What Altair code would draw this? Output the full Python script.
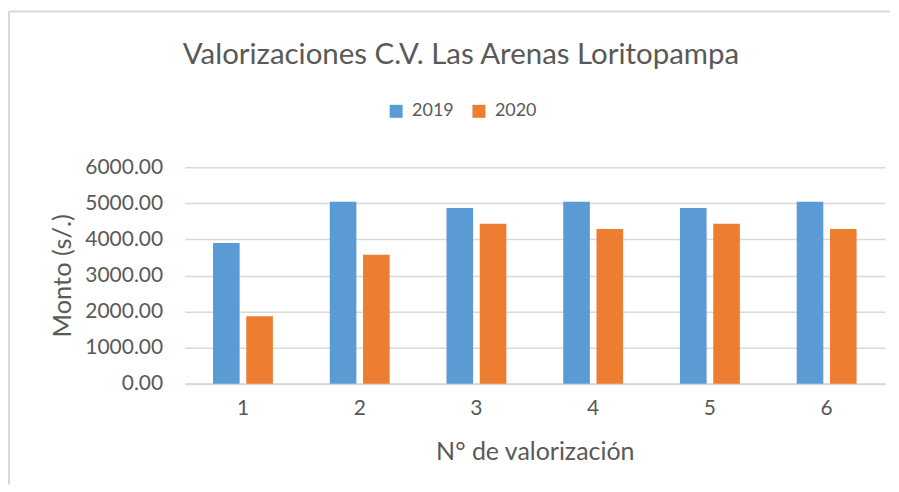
import altair as alt
import pandas as pd

categories = ["1", "2", "3", "4", "5", "6"]
series_2019 = [3900, 5040, 4870, 5040, 4870, 5040]
series_2020 = [1870, 3570, 4430, 4285, 4430, 4285]
years = ["2019", "2020"]

rows = []
for c, a, b in zip(categories, series_2019, series_2020):
    rows.append({"n": c, "year": "2019", "monto": a})
    rows.append({"n": c, "year": "2020", "monto": b})
df = pd.DataFrame(rows)

FONT = "Lato"
GRAY = "#595959"

bars = alt.Chart(df).mark_bar().encode(
    x=alt.X("n:N", sort=categories,
            scale=alt.Scale(paddingInner=0.487, paddingOuter=0.2435),
            axis=alt.Axis(title="N° de valorización", labelAngle=0, ticks=False,
                          domainColor="#d9d9d9", domainWidth=2,
                          labelFont=FONT, labelFontSize=21, labelColor=GRAY, labelPadding=14,
                          titleFont=FONT, titleFontSize=25, titleColor=GRAY,
                          titleFontWeight="normal", titlePadding=21)),
    xOffset=alt.XOffset("year:N", sort=years,
                        scale=alt.Scale(paddingInner=0.2, paddingOuter=0)),
    y=alt.Y("monto:Q", scale=alt.Scale(domain=[0, 6000]),
            axis=alt.Axis(title="Monto (s/.)", values=[0, 1000, 2000, 3000, 4000, 5000, 6000],
                          format=".2f", ticks=False, domain=False,
                          gridColor="#d9d9d9", gridWidth=1.5,
                          labelFont=FONT, labelFontSize=21, labelColor=GRAY, labelPadding=22,
                          titleFont=FONT, titleFontSize=25.5, titleColor=GRAY,
                          titleFontWeight="normal", titlePadding=9)),
    color=alt.Color("year:N", sort=years,
                    scale=alt.Scale(domain=years, range=["#5B9BD5", "#ED7D31"]),
                    legend=alt.Legend(title=None, orient="none", direction="horizontal",
                                      legendX=203, legendY=-65, symbolType="square",
                                      symbolSize=169, symbolStrokeWidth=0, labelFont=FONT,
                                      labelFontSize=18, labelColor=GRAY, columnPadding=16,
                                      labelOffset=7, padding=0)),
)

frame_df = pd.DataFrame({"k": [0]})
top_line = alt.Chart(frame_df).mark_rule(color="#d9d9d9", strokeWidth=2).encode(
    x=alt.value(-176), x2=alt.value(707), y=alt.value(-156))
left_line = alt.Chart(frame_df).mark_rule(color="#d9d9d9", strokeWidth=2).encode(
    x=alt.value(-176), y=alt.value(-156), y2=alt.value(318))

chart = alt.layer(top_line, left_line, bars).properties(
    width=702, height=217,
    padding={"left": 0, "top": 2, "right": 0, "bottom": 0},
    title=alt.TitleParams("Valorizaciones C.V. Las Arenas Loritopampa", font=FONT,
                          fontSize=29.5, fontWeight="normal", color=GRAY,
                          anchor="middle", dx=-74, offset=-60),
).configure_view(stroke=None)

chart.save("out.html", embed_options={"renderer": "svg", "actions": False})
